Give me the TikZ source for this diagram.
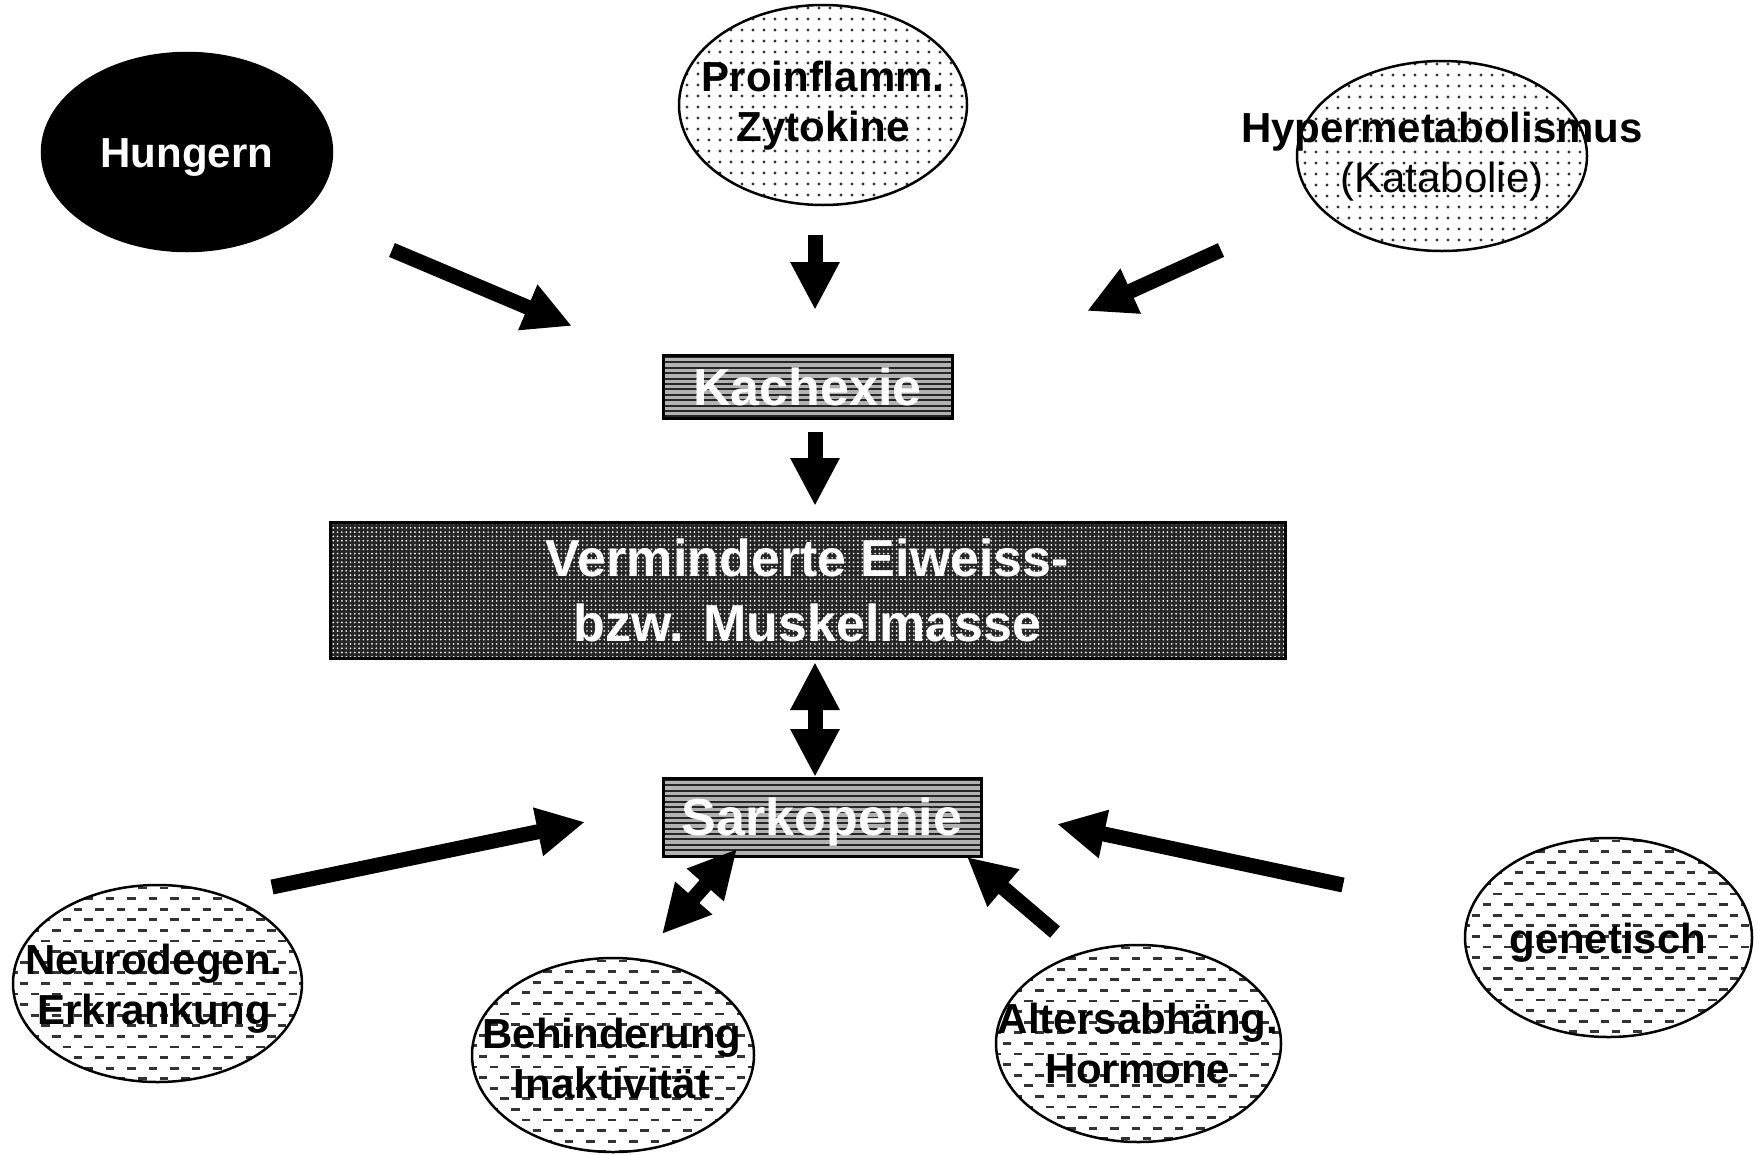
\documentclass[tikz,border=0pt]{standalone}
\usepackage{fontspec}
\setmainfont{Liberation Sans}
\usetikzlibrary{shapes.geometric,arrows.meta,calc}
\tikzset{
  blockarrow/.style={line width=15pt, -{Triangle[length=48pt,width=46pt]}},
  dblarrow/.style={line width=15pt, {Triangle[length=48pt,width=46pt]}-{Triangle[length=48pt,width=46pt]}},
  oval/.style={ellipse, draw=black, line width=2.5pt, inner sep=0pt},
  lbl/.style={align=center, inner sep=0pt, font=\fontsize{42}{50}\selectfont\bfseries},
  biglbl/.style={align=center, text=white, font=\fontsize{52}{65}\selectfont\bfseries},
  dotfill/.style={path picture={
     \foreach \k in {0,...,20}{
       \draw[black!80, line width=3.1pt, line cap=round, dash pattern=on 0pt off 11pt]
         ($(path picture bounding box.north west)+(-3,\k*11+3)$) -- ++(330,0);
     }}},
  dashfill/.style={path picture={
     \foreach \k [evaluate=\k as \ph using {mod(\k,2)*10.75}] in {0,...,20}{
       \draw[black!80, line width=2.9pt, dash pattern=on 8.5pt off 13pt, dash phase=\ph pt]
         ($(path picture bounding box.north west)+(-4,\k*10.6+3)$) -- ++(330,0);
     }}},
  stripebox/.style={rectangle, draw=black, line width=3pt, fill=black!30, inner sep=0pt,
     path picture={
     \foreach \k in {0,...,16}{
       \draw[black!85, line width=2pt]
         ($(path picture bounding box.north west)+(-2,\k*5.4+2)$) -- ++(420,0);
     }}},
  darkbox/.style={rectangle, draw=black, line width=3pt, fill=black!85, inner sep=0pt,
     path picture={
     \foreach \k in {0,...,33}{
       \draw[white, line width=1.9pt, line cap=round, dash pattern=on 0pt off 4.3pt]
         ($(path picture bounding box.north west)+(-1,\k*4.3+1.5)$) -- ++(970,0);
     }}}
}
\begin{document}
\begin{tikzpicture}[x=1pt,y=-1pt]
\useasboundingbox (0,0) rectangle (1758,1154);
% top ellipses
\node[oval, fill=black, minimum width=290pt, minimum height=198pt] (hungern) at (187,152) {};
\node[lbl, text=white] (hungernT) at (187,157.4) {Hungern};
\node[oval, dotfill, minimum width=288pt, minimum height=200pt] (proinfl) at (823,105) {};
\node[lbl] (proinflT) at (823,106) {Proinflamm.\\Zytokine};
\node[oval, dotfill, minimum width=290pt, minimum height=190pt] (hyper) at (1442,156) {};
\node[lbl] (hyperT) at (1442,156.5) {Hypermetabolismus\\{\mdseries (Katabolie)}};
% boxes
\node[stripebox, biglbl, minimum width=289pt, minimum height=63pt] (kach) at (807.5,386.5) {Kachexie};
\node[darkbox, biglbl, minimum width=955pt, minimum height=136pt] (verm) at (807.5,590) {Verminderte Eiweiss-\\bzw. Muskelmasse};
\node[stripebox, biglbl, text depth=0pt, minimum width=318pt, minimum height=78pt] (sarko) at (822,817) {Sarkopenie};
% bottom ellipses
\node[oval, dashfill, minimum width=289pt, minimum height=197pt] (neuro) at (157.5,983.5) {};
\node[lbl] (neuroT) at (154,988.5) {Neurodegen.\\Erkrankung};
\node[oval, dashfill, minimum width=282pt, minimum height=194pt] (behind) at (613,1055) {};
\node[lbl] (behindT) at (612,1058.5) {Behinderung\\Inaktivität};
\node[oval, dashfill, minimum width=285pt, minimum height=197pt] (alters) at (1138.5,1043.5) {};
\node[lbl] (altersT) at (1138,1043.5) {Altersabhäng.\\Hormone};
\node[oval, dashfill, minimum width=287pt, minimum height=199pt] (genet) at (1608.5,937.5) {};
\node[lbl] (genetT) at (1608,942.4) {genetisch};
% arrow end points
\coordinate (a1s) at (392,250);   \coordinate (a1e) at (572,326);
\coordinate (a2s) at (815,235);   \coordinate (a2e) at (815,310);
\coordinate (a3s) at (1221,250);  \coordinate (a3e) at (1087,311);
\coordinate (a4s) at (815,432);   \coordinate (a4e) at (815,506);
\coordinate (a5s) at (815,662);   \coordinate (a5e) at (815,777);
\coordinate (a6s) at (272,887);   \coordinate (a6e) at (585,822);
\coordinate (a7s) at (662,934);   \coordinate (a7e) at (737,849);
\coordinate (a8s) at (1055,932);  \coordinate (a8e) at (967,857);
\coordinate (a9s) at (1343,885);  \coordinate (a9e) at (1057,824);
% arrows
\draw[blockarrow] (a1s) -- (a1e);
\draw[blockarrow] (a2s) -- (a2e);
\draw[blockarrow] (a3s) -- (a3e);
\draw[blockarrow] (a4s) -- (a4e);
\draw[dblarrow] (a5s) -- (a5e);
\draw[blockarrow] (a6s) -- (a6e);
\draw[dblarrow] (a7s) -- (a7e);
\draw[blockarrow] (a8s) -- (a8e);
\draw[blockarrow] (a9s) -- (a9e);
\end{tikzpicture}
\end{document}
